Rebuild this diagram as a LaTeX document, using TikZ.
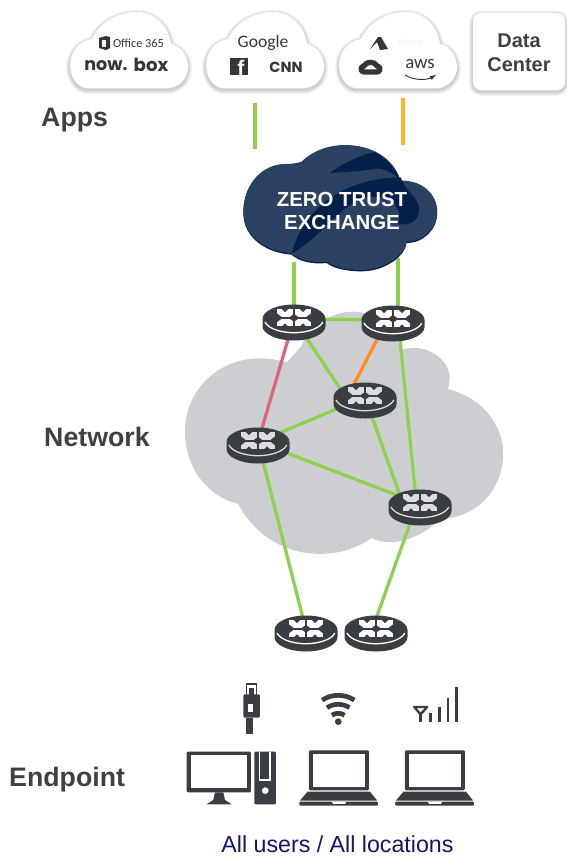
\documentclass[tikz,border=0pt]{standalone}
\usepackage{fontspec}
\setmainfont{Liberation Sans}
\newfontfamily\logofont{Poppins}
\newfontfamily\thinfont{Carlito}
\usetikzlibrary{positioning}
\definecolor{routergray}{HTML}{3A3D42}
\definecolor{cloudgray}{HTML}{CDCED2}
\definecolor{linkgreen}{HTML}{8FD14F}
\definecolor{linkred}{HTML}{DF6478}
\definecolor{linkorange}{HTML}{FF8F1C}
\definecolor{stubyellow}{HTML}{FFB81C}
\definecolor{navyfill}{HTML}{2B4162}
\definecolor{navydark}{HTML}{031F4A}
\definecolor{labelgray}{HTML}{404040}
\definecolor{logodark}{HTML}{33363B}
\definecolor{usersblue}{HTML}{15156E}
\newcommand{\appcloudpath}{(-41,38) .. controls (-51,38) and (-59,28) .. (-59,15)
  .. controls (-59,2) and (-50,-9) .. (-37,-11)
  .. controls (-30,-27) and (-12,-38) .. (8,-38)
  .. controls (26,-38) and (40,-24) .. (42,-6)
  .. controls (52,-4) and (59,6) .. (59,17)
  .. controls (59,29) and (49,38) .. (39,38) -- cycle}
\newcommand{\softshadow}[1]{%
  \foreach \w in {7,5.5,4,2.5,1} {
    \draw[black,opacity=0.045,line width=\w pt,line join=round] #1;
  }}
\tikzset{
  sectionlabel/.style={font=\fontsize{22.8}{24}\selectfont\bfseries,text=labelgray,inner sep=0pt},
  link/.style={line width=2.8pt,linkgreen},
  pics/router/.style={code={
    \fill[routergray] (-31.5,0) arc[start angle=180,end angle=360,x radius=31.5,y radius=14.5]
      -- (31.5,7) arc[start angle=0,end angle=180,x radius=31.5,y radius=14.5] -- cycle;
    \draw[#1,line width=1.1pt] (-29,3) arc[start angle=168,end angle=12,x radius=29.5,y radius=13.5];
    % four quadrants of the arrow icon
    \foreach \sx/\sy in {1/1,-1/1,1/-1,-1/-1} {
      \begin{scope}[yshift=1pt,xscale=\sx,yscale=\sy]
        \fill[#1] (1,1) rectangle (17,8.5);
        \fill[routergray] (1,1) -- (4,1) -- (1,3.2) -- cycle;
        \fill[routergray] (6,8.6) -- (12,8.6) -- (9,5.6) -- cycle;
        \fill[routergray] (17.1,0.9) -- (17.1,4.5) -- (12.5,0.9) -- cycle;
      \end{scope}
    }
  }},
}
\begin{document}
\begin{tikzpicture}[x=0.03cm,y=-0.03cm]
  \useasboundingbox (0,0) rectangle (567,856);

  % Apps clouds
  \foreach \cx in {129,265,398} {
    \begin{scope}[shift={(\cx,50)}]
      \begin{scope}[yshift=-1.5pt]
        \softshadow{\appcloudpath}
      \end{scope}
      \fill[white] \appcloudpath;
    \end{scope}
  }
  \begin{scope}[yshift=-1.5pt]
    \softshadow{[rounded corners=7pt] (473,13) rectangle (565,90)}
  \end{scope}
  \fill[white,rounded corners=7pt] (473,13) rectangle (565,90);
  \node[font=\fontsize{17}{20.5}\selectfont\bfseries,text=labelgray,align=center] (datacenter) at (519,53) {Data\\Center};

  % Logos of the first cloud
  \fill[logodark] (99,38) -- (106,36) -- (110,37) -- (110,48) -- (106,50) -- (99,48) -- cycle;
  \fill[white] (102,39.5) rectangle (106,46.5);
  \node[font=\thinfont\fontsize{10.5}{12}\selectfont,text=logodark,inner sep=0pt] (office) at (138.5,43) {Office 365};
  \node[font=\logofont\fontsize{15}{16}\selectfont\bfseries,text=logodark,inner sep=0pt] (now) at (106,66) {now.};
  \node[font=\logofont\fontsize{15.5}{16}\selectfont\bfseries,text=logodark,inner sep=0pt] (box) at (151,65) {box};

  % Logos of the second cloud
  \node[font=\thinfont\fontsize{15}{16}\selectfont,text=logodark] (google) at (263,42.5) {Google};
  \fill[logodark] (230,58) rectangle (248,75);
  \node[font=\fontsize{18}{18}\selectfont\bfseries,text=white,anchor=base,inner sep=0pt] (facebook) at (241,75) {f};
  \node[font=\logofont\fontsize{12.5}{14}\selectfont\bfseries,text=logodark,inner sep=0pt] (cnn) at (286,67) {CNN};

  % Logos of the third cloud
  \fill[logodark] (370,49) -- (378,37) -- (381,37) -- (388,49) -- (380,50) -- (377,42) -- cycle;
  \node[font=\thinfont\fontsize{9}{10}\selectfont,text=black!6] (azure) at (410,42) {Azure};
  \draw[logodark,line width=4.5pt,line join=round] (364,72) .. controls (360,72) and (360,66) .. (364,66)
    .. controls (366,61) and (375,61) .. (377,66) .. controls (381,66) and (381,72) .. (377,72) -- cycle;
  \node[font=\thinfont\fontsize{16}{16}\selectfont,text=logodark,inner sep=0pt] (aws) at (420,64) {aws};
  \draw[logodark,line width=0.8pt,-latex] (405,75) .. controls (415,81) and (427,80) .. (436,75);

  \node[sectionlabel,anchor=west] (apps) at (41,120) {Apps};
  \node[sectionlabel,anchor=west] (network) at (44,437) {Network};
  \node[sectionlabel,anchor=west] (endpoint) at (9,780) {Endpoint};

  % Network cloud
  \begin{scope}[shift={(170,300)},x=0.01cm,y=-0.01cm]
    \fill[cloudgray] (205,612) .. controls (110,590) and (45,500) .. (45,395)
      .. controls (45,270) and (145,175) .. (270,175)
      .. controls (300,175) and (330,180) .. (350,188) -- (395,138)
      .. controls (410,85) and (480,35) .. (550,35)
      .. controls (610,35) and (660,70) .. (695,150)
      .. controls (770,125) and (840,180) .. (840,235) -- (835,268)
      .. controls (930,290) and (1000,370) .. (1000,460)
      .. controls (1000,570) and (920,655) .. (810,657)
      .. controls (770,700) and (710,727) .. (660,727)
      .. controls (640,727) and (620,722) .. (605,715)
      .. controls (560,745) and (510,762) .. (450,762)
      .. controls (340,762) and (250,700) .. (205,612) -- cycle;
  \end{scope}

  % Router positions
  \coordinate (rtopA) at (294,319);
  \coordinate (rtopB) at (393,320);
  \coordinate (rmid) at (365,397);
  \coordinate (rleft) at (258,442);
  \coordinate (rright) at (420,504);
  \coordinate (redgeA) at (306,630);
  \coordinate (redgeB) at (376,630);
  % Ports where a link does not aim at the middle of a router
  \coordinate (portBdown) at (398,320);
  \coordinate (portBorange) at (387,320);
  \coordinate (portMorange) at (350,392);
  \coordinate (portMgreen) at (345,396);
  \coordinate (portRmid) at (403,504);
  \coordinate (portRdown) at (417,504);
  \coordinate (portRup) at (416.5,504);
  \coordinate (portEdgeB) at (372,630);
  \coordinate (exitA) at (294,262);
  \coordinate (exitB) at (398,258);
  \coordinate (stubAtop) at (255,103);
  \coordinate (stubAbot) at (255,149);
  \coordinate (stubBtop) at (403,98);
  \coordinate (stubBbot) at (403,145);

  % Links
  \draw[link] (stubAtop) -- (stubAbot);
  \draw[link,stubyellow] (stubBtop) -- (stubBbot);
  \draw[link] (exitA) -- (rtopA);
  \draw[link] (exitB) -- (portBdown);
  \foreach \a/\b in {rtopA/rtopB,rtopA/portMgreen,portBdown/portRup,rmid/rleft,rmid/portRmid,rleft/rright,rleft/redgeA,portRdown/portEdgeB} {
    \draw[link] (\a) -- (\b);
  }
  \draw[link,linkred] (rtopA) -- (rleft);
  \draw[link,linkorange] (portBorange) -- (portMorange);

  % Routers
  \foreach \r/\c in {rtopA/white,rtopB/white,rmid/cloudgray!70,rleft/cloudgray!70,rright/cloudgray!70,redgeA/white,redgeB/white} {
    \pic at (\r) {router=\c};
  }

  % Zero Trust Exchange cloud
  \begin{scope}[shift={(230,140)},x=0.01cm,y=-0.01cm]
    \def\exchangepath{(185,340) .. controls (110,335) and (40,290) .. (40,215)
      .. controls (40,130) and (100,72) .. (165,72)
      .. controls (185,72) and (200,70) .. (215,65)
      .. controls (250,30) and (300,15) .. (345,15)
      .. controls (420,15) and (490,50) .. (512,122)
      .. controls (580,120) and (622,165) .. (622,215)
      .. controls (622,265) and (580,305) .. (530,305)
      .. controls (525,345) and (465,390) .. (395,390)
      .. controls (345,390) and (310,380) .. (290,365)
      .. controls (250,370) and (205,360) .. (185,340) -- cycle}
    \begin{scope}[yshift=-1.2pt]
      \fill[navydark] \exchangepath;
    \end{scope}
    \fill[navyfill] \exchangepath;
    \fill[navydark] (298,100) .. controls (340,70) and (390,45) .. (435,36)
      .. controls (470,55) and (495,85) .. (510,118)
      .. controls (485,95) and (455,80) .. (425,88)
      .. controls (385,95) and (340,95) .. (298,100) -- cycle;
    \fill[navydark] (185,340) .. controls (215,225) and (320,115) .. (512,112)
      .. controls (535,165) and (568,175) .. (568,212)
      .. controls (565,245) and (535,258) .. (505,252)
      .. controls (515,215) and (500,165) .. (425,170)
      .. controls (340,175) and (280,290) .. (185,340) -- cycle;
  \end{scope}
  \node[font=\fontsize{17.4}{19.6}\selectfont\bfseries,text=white,align=center] (exchange) at (342,211) {ZERO TRUST\\EXCHANGE};

  % Endpoint icons
  \begin{scope}[shift={(170,675)},x=0.01cm,y=-0.01cm]
    % plug
    \draw[routergray,line width=1pt] (230,27) rectangle (260,66);
    \fill[routergray] (238,38) rectangle (252,60);
    \fill[routergray,rounded corners=1pt] (220,58) rectangle (270,128);
    \fill[white] (234,88) rectangle (250,112);
    \fill[routergray] (228,128) rectangle (250,176);
    % wifi
    \foreach \rad in {35,62,89} {
      \draw[routergray,line width=4pt] (505,150) ++(-123:\rad) arc[start angle=-123,end angle=-57,radius=\rad];
    }
    \fill[routergray] (505,140) circle (10);
    % signal bars
    \draw[routergray,line width=2pt,line join=round] (733,96) -- (772,96) -- (752,118) -- cycle;
    \foreach \bx/\by in {752/118,782/115,808/95,834/68,860/35} {
      \draw[routergray,line width=2.3pt] (\bx,\by) -- (\bx,142);
    }
    % desktop
    \fill[routergray,rounded corners=1pt] (50,230) rectangle (243,352);
    \fill[white] (62,241) rectangle (232,340);
    \fill[routergray] (135,352) -- (160,352) -- (165,375) -- (185,388) -- (110,388) -- (130,375) -- cycle;
    \fill[routergray,rounded corners=1pt] (253,230) rectangle (318,388);
    \draw[white,line width=1pt] (268,230) -- (268,315) -- (300,315) -- (300,230);
    \fill[white] (286,347) circle (10);
    % laptops
    \foreach \lx in {0,288} {
      \begin{scope}[xshift=\lx*0.01cm]
        \fill[routergray,rounded corners=1pt] (417,226) rectangle (597,346);
        \fill[white] (428,236) rectangle (586,336);
        \fill[routergray] (413,350) -- (600,350) -- (622,377) -- (390,377) -- cycle;
        \fill[routergray,rounded corners=1pt] (388,380) rectangle (625,392);
        \fill[white] (485,380) -- (530,380) -- (525,387) -- (490,387) -- cycle;
      \end{scope}
    }
  \end{scope}

  \node[font=\fontsize{19.8}{21}\selectfont,text=usersblue,inner sep=0pt,anchor=base] (users) at (337.5,852) {All users / All locations};
\end{tikzpicture}
\end{document}
